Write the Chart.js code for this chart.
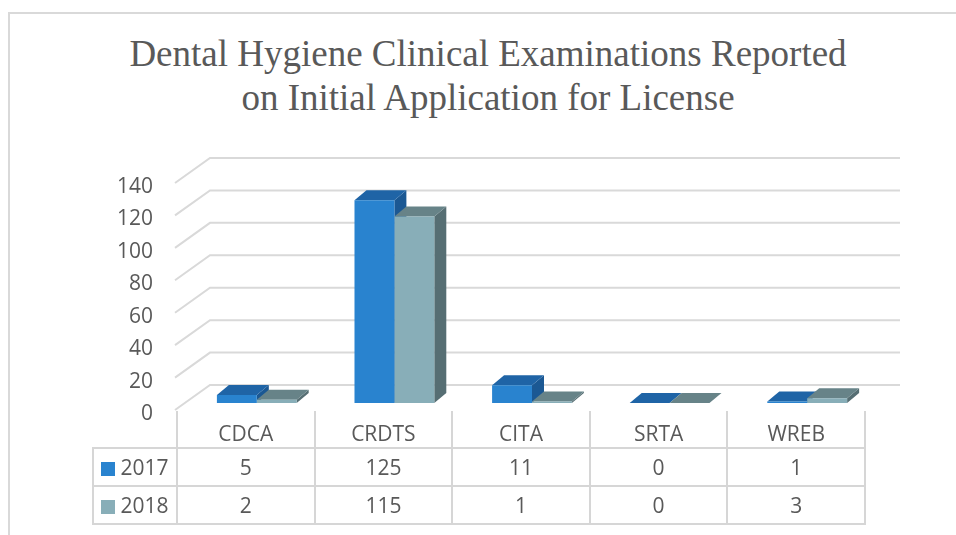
<!DOCTYPE html>
<html>
<head>
<meta charset="utf-8">
<script src="https://cdn.jsdelivr.net/npm/chart.js@4.4.1/dist/chart.umd.min.js"></script>
<style>
  body { margin: 0; background: #fff; }
  .wrap { position: relative; width: 956px; height: 535px; overflow: hidden; background: #fff; }
  .frame { position: absolute; left: 8px; top: 12px; width: 1000px; height: 600px;
    border-left: 2px solid #d9d9d9; border-top: 2px solid #d9d9d9; }
  #barChart { position: absolute; left: 0; top: 0; }
  .title { position: absolute; left: 0; top: 32px; width: 976px; text-align: center;
    font: 37px 'Liberation Serif', 'Times New Roman', serif; line-height: 43.5px; color: #595959; }
  .data-table { position: absolute; left: 92px; top: 411px; border-collapse: collapse; table-layout: fixed;
    font: 21px 'Open Sans', sans-serif; color: #595959; }
  .data-table td { border: 2px solid #d6d6d6; text-align: center; padding: 0; height: 36px; line-height: 24px; }
  .data-table tr.head td { border-top: none; padding-top: 10px; height: 26px; vertical-align: top; }
  .data-table tr.head td.corner { border: none; }
  .swatch { display: inline-block; width: 14px; height: 14px; margin-right: 5px; vertical-align: -1px; }
</style>
</head>
<body>
<div class="wrap">
  <div class="frame"></div>
  <div class="title">Dental Hygiene Clinical Examinations Reported<br>on Initial Application for License</div>
  <canvas id="barChart" width="956" height="535"></canvas>
  <table class="data-table"></table>
</div>
<script>
// data
const categories = ['CDCA', 'CRDTS', 'CITA', 'SRTA', 'WREB'];
const seriesNames = ['2017', '2018'];
const values2017 = [5, 125, 11, 0, 1];
const values2018 = [2, 115, 1, 0, 3];
const yTicks = [0, 20, 40, 60, 80, 100, 120, 140];

// colours: front, top, side
const faces2017 = ['#2983cf', '#1f64a6', '#1b5893'];
const faces2018 = ['#88aeb8', '#678388', '#566e73'];

// utils
function $(selector) {
  return document.querySelector(selector);
}

// 3d look: back wall grid + bar tops and sides
const depth = { wallX: 35, wallY: 25, frontY: 7, barX: 12, barY: 10 };

const wallGrid = {
  id: 'wallGrid',
  beforeDatasetsDraw(chart) {
    const ctx = chart.ctx;
    const y = chart.scales.y;
    const area = chart.chartArea;
    const frontX = area.left - 13;
    ctx.save();
    ctx.strokeStyle = '#d9d9d9';
    ctx.lineWidth = 2;
    yTicks.forEach(v => {
      const py = y.getPixelForValue(v);
      ctx.beginPath();
      ctx.moveTo(frontX, py + depth.frontY);
      ctx.lineTo(frontX + depth.wallX, py + depth.frontY - depth.wallY);
      ctx.lineTo(area.right + 24, py + depth.frontY - depth.wallY);
      ctx.stroke();
    });
    // bar tops and sides, front faces come from chart.js on top
    const metas = [chart.getDatasetMeta(0), chart.getDatasetMeta(1)];
    const faces = [faces2017, faces2018];
    categories.forEach((c, i) => {
      metas.forEach((meta, d) => {
        const bar = meta.data[i];
        const left = bar.x - bar.width / 2;
        const right = bar.x + bar.width / 2;
        const top = bar.y;
        const base = bar.base;
        ctx.fillStyle = faces[d][2];
        ctx.beginPath();
        ctx.moveTo(right, base);
        ctx.lineTo(right, top);
        ctx.lineTo(right + depth.barX, top - depth.barY);
        ctx.lineTo(right + depth.barX, base - depth.barY);
        ctx.closePath();
        ctx.fill();
        ctx.fillStyle = faces[d][1];
        ctx.beginPath();
        ctx.moveTo(left, top);
        ctx.lineTo(right, top);
        ctx.lineTo(right + depth.barX, top - depth.barY);
        ctx.lineTo(left + depth.barX, top - depth.barY);
        ctx.closePath();
        ctx.fill();
      });
    });
    ctx.restore();
  }
};

// chart
function renderChart() {
  const ctx = $('#barChart').getContext('2d');
  return new Chart(ctx, {
    type: 'bar',
    data: {
      labels: categories,
      datasets: [
        { label: seriesNames[0], data: values2017, backgroundColor: faces2017[0] },
        { label: seriesNames[1], data: values2018, backgroundColor: faces2018[0] }
      ]
    },
    options: {
      responsive: false,
      animation: false,
      events: [],
      categoryPercentage: 0.58,
      barPercentage: 1,
      layout: { padding: { left: 78, right: 80, top: 176, bottom: 132 } },
      plugins: {
        legend: { display: false },
        title: { display: false },
        tooltip: { enabled: false }
      },
      scales: {
        x: { display: false },
        y: {
          min: 0,
          max: 140,
          afterFit(scale) { scale.width = 110; },
          afterBuildTicks(scale) { scale.ticks = yTicks.map(v => ({ value: v })); },
          grid: { display: false, drawTicks: false },
          border: { display: false },
          ticks: {
            padding: 35,
            labelOffset: 11,
            color: '#595959',
            font: { family: 'Open Sans', size: 21 }
          }
        }
      }
    },
    plugins: [wallGrid]
  });
}

// data table under the chart
function renderTable() {
  const table = $('.data-table');
  const colgroup = document.createElement('colgroup');
  [84].concat(categories.map(() => 137.6)).forEach(w => {
    const col = document.createElement('col');
    col.style.width = w + 'px';
    colgroup.appendChild(col);
  });
  table.appendChild(colgroup);

  const head = document.createElement('tr');
  head.setAttribute('class', 'head');
  const corner = document.createElement('td');
  corner.setAttribute('class', 'corner');
  head.appendChild(corner);
  categories.forEach(c => {
    const td = document.createElement('td');
    td.textContent = c;
    head.appendChild(td);
  });
  table.appendChild(head);

  [values2017, values2018].forEach((row, i) => {
    const tr = document.createElement('tr');
    const name = document.createElement('td');
    const swatch = document.createElement('span');
    swatch.setAttribute('class', 'swatch');
    swatch.style.background = [faces2017, faces2018][i][0];
    name.appendChild(swatch);
    name.appendChild(document.createTextNode(seriesNames[i]));
    tr.appendChild(name);
    row.forEach(v => {
      const td = document.createElement('td');
      td.textContent = v;
      tr.appendChild(td);
    });
    table.appendChild(tr);
  });
}

renderChart();
renderTable();
</script>
</body>
</html>
